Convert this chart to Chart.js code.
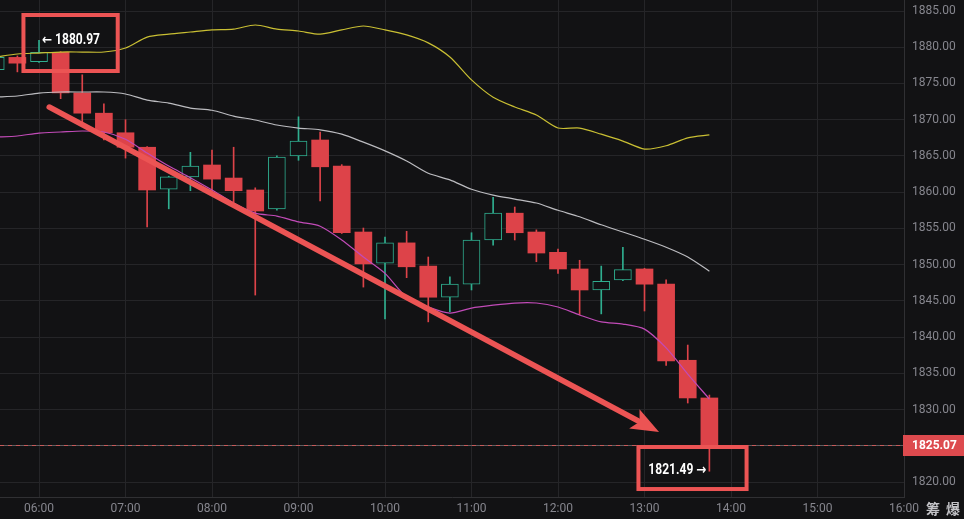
<!DOCTYPE html>
<html><head><meta charset="utf-8">
<script src="https://cdn.jsdelivr.net/npm/chart.js@4.4.1/dist/chart.umd.min.js"></script>
<style>html,body{margin:0;padding:0;background:#121214;}#wrap{width:964px;height:519px;}</style>
</head><body><div id="wrap"><canvas id="c" width="964" height="519"></canvas></div>
<script>
// ---- data ----
const times  = ['05:30','05:45','06:00','06:15','06:30','06:45','07:00','07:15','07:30','07:45','08:00','08:15','08:30','08:45','09:00','09:15','09:30','09:45','10:00','10:15','10:30','10:45','11:00','11:15','11:30','11:45','12:00','12:15','12:30','12:45','13:00','13:15','13:30','13:45'];
const opens  = [1876.9,1878.6,1878.0,1879.3,1873.7,1870.9,1868.2,1866.2,1860.4,1862.1,1863.75,1861.95,1860.3,1857.7,1865.0,1867.2,1863.6,1854.5,1850.2,1853.0,1849.8,1845.5,1847.3,1853.4,1857.1,1854.5,1851.7,1849.4,1846.5,1847.9,1849.4,1847.3,1836.8,1831.6];
const highs  = [1879.2,1878.8,1880.97,1879.4,1876.2,1872.2,1870.0,1866.3,1862.2,1865.5,1865.8,1866.2,1860.6,1865.0,1870.4,1868.3,1863.8,1855.05,1853.8,1854.6,1851.05,1848.3,1854.4,1859.3,1857.95,1854.8,1852.15,1850.6,1849.8,1852.4,1849.5,1847.9,1838.9,1832.0];
const lows   = [1876.2,1876.6,1877.9,1872.9,1869.7,1867.2,1864.7,1855.2,1857.7,1860.2,1860.0,1858.6,1845.8,1857.5,1864.4,1858.8,1854.3,1846.9,1842.5,1848.2,1842.1,1843.5,1846.5,1852.7,1853.4,1850.4,1848.8,1843.05,1843.2,1847.8,1843.6,1836.1,1830.9,1821.49];
const closes = [1878.6,1877.8,1879.3,1873.7,1870.9,1868.2,1866.2,1860.3,1862.1,1863.6,1861.8,1860.2,1857.4,1864.85,1867.05,1863.5,1854.4,1850.1,1853.0,1849.7,1845.5,1847.3,1853.4,1857.1,1854.4,1851.6,1849.4,1846.5,1847.7,1849.3,1847.3,1836.7,1831.6,1825.07];
const bbUpper = [1878.65,1879.07,1879.2,1879.34,1879.34,1879.34,1879.9,1881.4,1881.8,1882.1,1882.4,1882.5,1883.07,1882.5,1882.24,1881.8,1882.4,1882.93,1882.4,1881.7,1880.6,1878.65,1875.5,1873.1,1871.75,1870.65,1868.85,1868.85,1868.0,1867.05,1865.95,1866.4,1867.5,1867.9];
const bbMid   = [1873.13,1873.27,1873.68,1873.82,1873.82,1873.82,1873.55,1872.7,1872.3,1871.6,1871.3,1870.5,1869.96,1869.27,1868.85,1868.6,1868.0,1866.9,1865.7,1864.3,1862.6,1861.7,1860.4,1859.6,1859.05,1858.5,1857.5,1856.6,1855.5,1854.5,1853.5,1852.4,1851.05,1849.1];
const bbLower = [1867.6,1867.75,1868.16,1868.3,1868.44,1868.3,1867.3,1865.4,1863.6,1862.0,1860.3,1858.5,1857.1,1856.7,1855.9,1855.3,1853.4,1851.05,1848.8,1845.5,1844.15,1843.3,1844.0,1844.4,1844.7,1844.7,1844.15,1843.05,1842.1,1841.8,1841.1,1838.5,1834.9,1831.45];
const xTickHours = [6,7,8,9,10,11,12,13,14,15,16];
const yTickValues = [1820,1825,1830,1835,1840,1845,1850,1855,1860,1865,1870,1875,1880,1885];
const lastPrice = 1825.07;
const highMark = {time:'06:00', value:1880.97};
const lowMark  = {time:'13:45', value:1821.49};
const watermark = ['筹', '爆'];

// annotation geometry in data units
const arrowFrom = {x:6.118, y:1871.75};
const arrowTo   = {x:13.168, y:1826.9};
const boxHigh = {x0:5.82, x1:6.91, y0:1884.45, y1:1876.72};
const boxLow  = {x0:12.93, x1:14.18, y0:1824.83, y1:1819.03};

// ---- helpers ----
const hr = t => { const [h,m] = t.split(':').map(Number); return h + m/60; };
const UP = '#2fae8f', DOWN = '#dd4349', BG = '#121214', ANN = '#ec5454';
const isUp = i => closes[i] >= opens[i];

const wickData = times.map((t,i)=>({x:hr(t), y:[lows[i], highs[i]]}));
const bodyData = times.map((t,i)=>({x:hr(t), y:[opens[i], closes[i]]}));
const lineData = arr => times.map((t,i)=>({x:hr(t), y:arr[i]}));

const overlay = {
  id:'overlay',
  beforeDatasetsDraw(chart){
    const {ctx, chartArea:a, scales:{y}} = chart;
    const yy = Math.round(y.getPixelForValue(lastPrice)) + 0.5;
    ctx.save();
    ctx.lineWidth = 1;
    ctx.setLineDash([4,4]);
    ctx.strokeStyle = '#c85a5a';
    ctx.beginPath(); ctx.moveTo(a.left, yy); ctx.lineTo(a.right, yy); ctx.stroke();
    ctx.lineDashOffset = 4;
    ctx.strokeStyle = 'rgba(200,200,200,0.35)';
    ctx.beginPath(); ctx.moveTo(a.left, yy); ctx.lineTo(a.right, yy); ctx.stroke();
    ctx.restore();
  },
  afterDraw(chart){
    const {ctx, chartArea:a, scales:{x, y}} = chart;
    const px = v => x.getPixelForValue(v), py = v => y.getPixelForValue(v);
    ctx.save();
    // arrow
    const ax0 = px(arrowFrom.x), ay0 = py(arrowFrom.y), ax1 = px(arrowTo.x), ay1 = py(arrowTo.y);
    const ang = Math.atan2(ay1-ay0, ax1-ax0);
    const headLen = 28, headW = 11;
    const bx = ax1 - headLen*Math.cos(ang), by = ay1 - headLen*Math.sin(ang);
    ctx.strokeStyle = ANN; ctx.fillStyle = ANN;
    ctx.lineWidth = 5.5; ctx.lineCap = 'round';
    ctx.beginPath(); ctx.moveTo(ax0, ay0); ctx.lineTo(bx + 4*Math.cos(ang), by + 4*Math.sin(ang)); ctx.stroke();
    ctx.beginPath();
    ctx.moveTo(ax1, ay1);
    ctx.lineTo(bx - headW*Math.sin(ang), by + headW*Math.cos(ang));
    ctx.lineTo(bx + 6*Math.cos(ang), by + 6*Math.sin(ang));
    ctx.lineTo(bx + headW*Math.sin(ang), by - headW*Math.cos(ang));
    ctx.closePath(); ctx.fill();
    // boxes
    ctx.lineWidth = 4; ctx.lineCap = 'butt';
    [boxHigh, boxLow].forEach(b=>{
      const l = px(b.x0), r = px(b.x1), t = py(b.y0), bt = py(b.y1);
      ctx.strokeRect(l, t, r-l, bt-t);
    });
    // high / low texts
    ctx.fillStyle = '#ffffff';
    ctx.textBaseline = 'middle';
    const drawNarrow = (txt, xx, yy, align) => {
      ctx.save();
      ctx.font = 'bold 14px Roboto, "DejaVu Sans", sans-serif';
      const w = ctx.measureText(txt).width * 0.86;
      const startX = align === 'right' ? xx - w : xx;
      ctx.translate(startX, yy); ctx.scale(0.86, 1);
      ctx.textAlign = 'left';
      ctx.fillText(txt, 0, 0);
      ctx.restore();
    };
    drawNarrow('\u2190 ' + highMark.value.toFixed(2), px(hr(highMark.time)) + 3, py(highMark.value), 'left');
    drawNarrow(lowMark.value.toFixed(2) + ' \u2192', px(hr(lowMark.time)) - 3, py(lowMark.value) - 1, 'right');
    // last price tag
    const ty = py(lastPrice);
    ctx.fillStyle = '#dd4a4e';
    ctx.fillRect(a.right - 1, Math.round(ty) - 10, chart.width - a.right + 1, 21);
    ctx.fillStyle = '#ffffff';
    ctx.font = 'bold 12px Roboto, sans-serif';
    ctx.textAlign = 'left';
    ctx.fillText(lastPrice.toFixed(2), a.right + 8, Math.round(ty) + 0.5);
    // watermark chars
    ctx.fillStyle = '#c4c4c8';
    ctx.font = 'bold 14px "Noto Sans CJK SC", sans-serif';
    ctx.textAlign = 'left';
    ctx.fillText(watermark[0], 926, a.bottom + 12);
    ctx.fillText(watermark[1], 946, a.bottom + 12);
    ctx.restore();
  }
};

new Chart(document.getElementById('c'), {
  type:'bar',
  data:{ datasets:[
    { type:'line', data:lineData(bbUpper), borderColor:'#c9bf33', borderWidth:1.2, pointRadius:0, tension:0.25, fill:false, order:1 },
    { type:'line', data:lineData(bbMid),   borderColor:'#bcbcc0', borderWidth:1.2, pointRadius:0, tension:0.25, fill:false, order:1 },
    { type:'line', data:lineData(bbLower), borderColor:'#c24bb8', borderWidth:1.2, pointRadius:0, tension:0.25, fill:false, order:1 },
    { type:'bar', data:bodyData, grouped:false, barThickness:17, borderSkipped:false,
      backgroundColor: times.map((t,i)=> isUp(i) ? BG : DOWN),
      borderColor: times.map((t,i)=> isUp(i) ? UP : DOWN),
      borderWidth: times.map((t,i)=> isUp(i) ? 1 : 0), order:4 },
    { type:'bar', data:wickData, grouped:false, barThickness:1, borderWidth:0,
      backgroundColor: times.map((t,i)=> isUp(i) ? UP : DOWN), order:5 }
  ]},
  options:{
    responsive:false, animation:false, devicePixelRatio:1,
    layout:{padding:0},
    plugins:{legend:{display:false}, tooltip:{enabled:false}},
    scales:{
      x:{ type:'linear', min:5.549, max:16, offset:false,
        grid:{color:'#252528', drawTicks:false, offset:false},
        border:{display:true, color:'#303033'},
        afterBuildTicks: s => { s.ticks = xTickHours.map(v=>({value:v})); },
        afterFit: s => { s.height = 22; s.paddingLeft = 0; s.paddingRight = 0; },
        ticks:{ color:'#86868e', font:{family:'Roboto', size:12}, padding:5, maxRotation:0, autoSkip:false,
          callback: v => String(v).padStart(2,'0') + ':00' } },
      y:{ position:'right', min:1817.93, max:1886.52, beginAtZero:false,
        grid:{color:'#252528', drawTicks:false},
        border:{display:true, color:'#303033'},
        afterBuildTicks: s => { s.ticks = yTickValues.map(v=>({value:v})); },
        afterFit: s => { s.width = 60; s.paddingTop = 0; s.paddingBottom = 0; },
        ticks:{ color:'#86868e', font:{family:'Roboto', size:12}, padding:8,
          callback: v => Number(v).toFixed(2) } }
    }
  },
  plugins:[overlay]
});
</script></body></html>
